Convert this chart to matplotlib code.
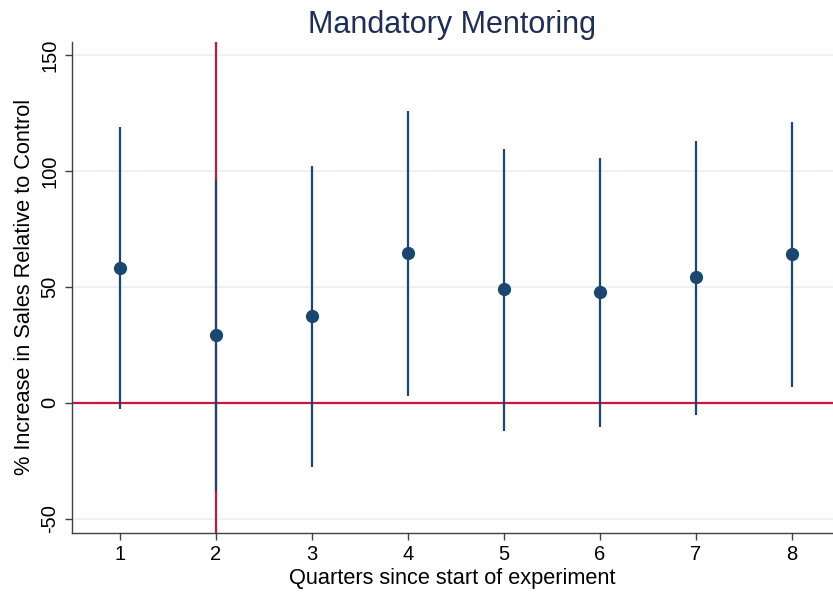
import numpy as np
import matplotlib
matplotlib.use("Agg")
import matplotlib.pyplot as plt

plt.rcParams['font.family'] = ['Liberation Sans', 'DejaVu Sans']

# point estimates and 95% CIs
quarters = [1, 2, 3, 4, 5, 6, 7, 8]
estimate = [58.3, 29.4, 37.6, 64.5, 49.2, 47.8, 54.3, 64.2]
ci_low = [-2.9, -38.0, -27.6, 2.8, -12.1, -10.4, -5.2, 6.6]
ci_high = [118.9, 96.2, 102.3, 126.0, 109.5, 105.5, 113.1, 121.1]
y_ticks = [-50, 0, 50, 100, 150]

navy = "#1a476f"
red = "#c8163f"

fig = plt.figure(figsize=(8.33, 5.97), dpi=100)
ax = fig.add_axes([72 / 833, 1 - 532.7 / 597, (833 - 72) / 833, (532.7 - 41.7) / 597])

# grid and reference lines
for yt in y_ticks:
    ax.axhline(yt, color="#eaf2f3", lw=1.5, zorder=0)
ax.axhline(0, color=red, lw=1.6, zorder=1)
ax.axvline(2, color=red, lw=1.6, zorder=1)

# confidence intervals + estimates
ax.vlines(quarters, ci_low, ci_high, color=navy, lw=1.6, zorder=2)
ax.plot(quarters, estimate, "o", color=navy, ms=8.5, zorder=3)

ax.set_xlim(0.5, 8.43)
ax.set_ylim(-56.1, 155.9)
ax.set_xticks(quarters)
ax.set_yticks(y_ticks)
ax.set_yticklabels([str(v) for v in y_ticks], rotation=90, va="center")

for side in ["top", "right"]:
    ax.spines[side].set_visible(False)
for side in ["left", "bottom"]:
    ax.spines[side].set_color("#404040")
    ax.spines[side].set_linewidth(1.0)
ax.tick_params(axis="both", length=5, width=1.0, color="#404040",
               labelsize=14.5, pad=4)

ax.set_xlabel("Quarters since start of experiment", fontsize=15.7, labelpad=3)
ax.set_ylabel("% Increase in Sales Relative to Control", fontsize=15.7, labelpad=4)
ax.set_title("Mandatory Mentoring", fontsize=22, color="#1e2f55", pad=6)

fig.savefig("out.png", dpi=100)
